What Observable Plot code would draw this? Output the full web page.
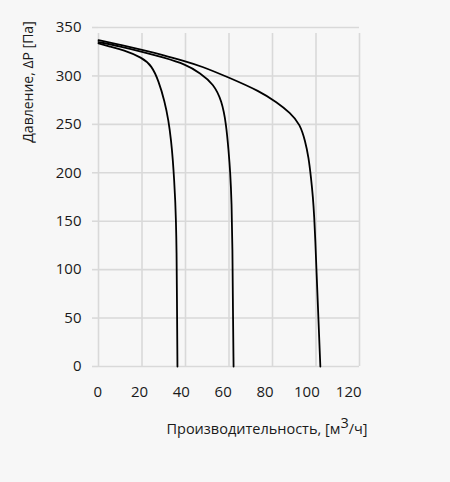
<!DOCTYPE html>
<html>
<head>
<meta charset="utf-8">
<script src="https://cdn.jsdelivr.net/npm/d3@7"></script>
<script src="https://cdn.jsdelivr.net/npm/@observablehq/plot@0.6"></script>
<style>
  html, body { margin: 0; padding: 0; background: #f7f7f7; }
  #chart { width: 450px; height: 482px; }
  svg { display: block; }
</style>
</head>
<body>
<div id="chart"></div>
<script>
// Axis ticks
const xTicks = [0, 20, 40, 60, 80, 100, 120];
const yTicks = [0, 50, 100, 150, 200, 250, 300, 350];

// Curve 1 (smallest flow)
const curve1Q = [0, 5, 11.5, 20, 24.5, 27.6, 30.4, 32.2, 33.4, 34.2, 34.8, 35.3, 35.6, 35.9, 36.1, 36.3];
const curve1P = [333.5, 330.5, 326.7, 319, 310.5, 295, 274, 254, 233, 213, 192, 171, 151, 123, 60, 0];

// Curve 2 (medium flow)
const curve2Q = [0, 10, 20, 30, 40, 46.8, 52.9, 56.7, 58.7, 59.8, 60.6, 61.2, 61.6, 61.8, 62.1];
const curve2P = [335, 330.5, 325, 319, 312, 303, 291.6, 274.4, 250.4, 223, 200, 170, 123, 60, 0];

// Curve 3 (largest flow)
const curve3Q = [0, 10, 20, 30, 40, 46.8, 59.8, 74.3, 82, 88.1, 92.7, 95, 96.6, 97.7, 98.6, 99.2, 99.7, 100.2, 101.1, 102];
const curve3P = [337, 332, 327, 321.5, 315, 310.5, 298.5, 284, 272.7, 262, 250, 233, 216, 195, 175, 154, 130, 100, 50, 0];

const curves = [
  {name: "1", q: curve1Q, p: curve1P},
  {name: "2", q: curve2Q, p: curve2P},
  {name: "3", q: curve3Q, p: curve3P}
];
const rows = curves.flatMap(c => c.q.map((q, i) => ({curve: c.name, q, p: c.p[i]})));

const gridColor = "#d9d9d9";
const textColor = "#1a1a1a";
const W = 450, H = 482;
const mL = 98, mR = 91, mT = 27, mB = 116;
// x tick labels in the original sit on a slightly narrower spacing than the gridlines
const labelStretch = 0.9617, labelShift = -0.37;

const chart = Plot.plot({
  width: W,
  height: H,
  marginLeft: mL,
  marginRight: mR,
  marginTop: mT,
  marginBottom: mB,
  style: {background: "#f7f7f7", fontFamily: "'Open Sans', sans-serif", fontSize: "15px", color: textColor},
  x: {domain: [0, 120], label: null, axis: null},
  y: {domain: [0, 350], ticks: yTicks, label: null},
  marks: [
    Plot.ruleX(xTicks, {stroke: gridColor, strokeWidth: 1.6, y1: 0, y2: 350, insetBottom: -6}),
    Plot.ruleY(yTicks, {stroke: gridColor, strokeWidth: 1.6, x1: 0, x2: 120}),
    Plot.axisY({ticks: yTicks, tickSize: 6, tickPadding: 11, stroke: gridColor, strokeWidth: 1.6, strokeOpacity: 1, fill: textColor, fontSize: 15, label: null}),
    Plot.text(xTicks, {x: d => d * labelStretch + labelShift, text: d => String(d), frameAnchor: "bottom", lineAnchor: "middle", dy: 26, fill: textColor, fontSize: 15}),
    Plot.line(rows, {x: "q", y: "p", z: "curve", stroke: "#000", strokeWidth: 1.8, curve: "basis"})
  ]
});

const svg = d3.select(chart);
// Y-axis title
svg.append("text")
  .attr("transform", "translate(33,82) rotate(-90)")
  .attr("text-anchor", "middle")
  .attr("font-family", "'Open Sans', sans-serif")
  .attr("font-size", 14)
  .attr("fill", textColor)
  .text("Давление, ΔP [Па]");
// X-axis title with superscript
const xt = svg.append("text")
  .attr("x", 267)
  .attr("y", 434)
  .attr("text-anchor", "middle")
  .attr("font-family", "'Open Sans', sans-serif")
  .attr("font-size", 14.5)
  .attr("fill", textColor);
xt.append("tspan").text("Производительность, [м");
xt.append("tspan").attr("dy", -6).text("3");
xt.append("tspan").attr("dy", 6).text("/ч]");

document.getElementById("chart").appendChild(chart);
</script>
</body>
</html>
